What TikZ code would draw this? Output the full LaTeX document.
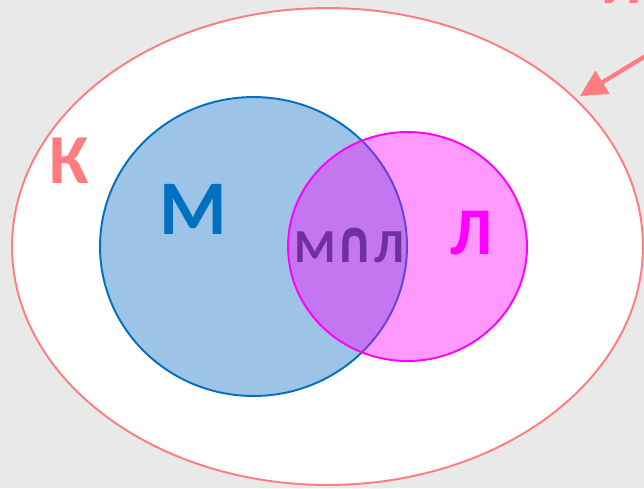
\documentclass[tikz,border=0pt]{standalone}
\usepackage{fontspec}
\setmainfont{Carlito}
\newfontfamily\symfont{DejaVu Sans}
\usepackage{xcolor}
\usetikzlibrary{shapes.geometric,arrows.meta}
\definecolor{fond}{RGB}{233,233,233}
\definecolor{rose}{RGB}{255,124,128}
\definecolor{bleu}{RGB}{0,112,192}
\definecolor{bleuc}{RGB}{157,195,230}
\definecolor{mag}{RGB}{255,0,255}
\definecolor{violet}{RGB}{112,48,160}
\newcommand{\inter}{\scalebox{1.0}[1.25]{\symfont\bfseries ∩}}

\begin{document}
\begin{tikzpicture}[x=0.02cm, y=-0.02cm,
  ens/.style={draw=#1, line width=1.1pt, inner sep=0pt, ellipse},
  lab/.style={font=\bfseries\fontsize{#1}{#1}\selectfont, inner sep=0pt}]

% fond
\fill[fond] (0,0) rectangle (644,488);
\useasboundingbox (0,0) rectangle (644,488);

% ensembles
\node[ens=rose, fill=white, minimum width=12.62cm, minimum height=9.54cm] (K) at (327.5,246.5) {};
\node[ens=bleu, fill=bleuc, minimum width=6.14cm, minimum height=5.98cm] (M) at (253.5,246.5) {};
\node[ens=mag, fill=mag, fill opacity=0.4, minimum width=4.78cm, minimum height=4.58cm] (L) at (407.5,246.5) {};

% lettres
\node[lab=40pt, text=rose] (tK) at (69,161) {К};
\node[lab=44pt, text=bleu] (tM) at (193,209) {М};
\node[lab=38pt, text=mag] (tL) at (471,233) {Л};
\node[lab=27pt, text=violet] (tML) at (349,245) {М\inter Л};

% fleche
\node[lab=35pt, text=rose, anchor=base] (tU) at (622,3) {И};
\coordinate (dep) at (670,41);
\coordinate (arr) at (580,96);
\draw[rose, line width=2.4pt, -{Triangle[length=15pt, width=15pt]}] (dep) -- (arr);

\end{tikzpicture}
\end{document}
